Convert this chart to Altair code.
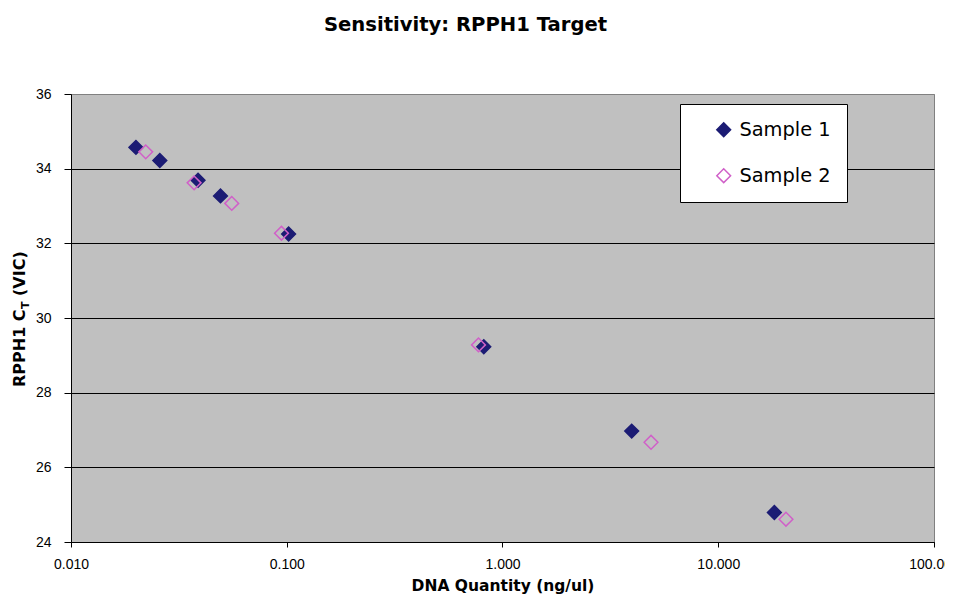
import altair as alt
import pandas as pd

# ---- data ----
series_names = ["Sample 1", "Sample 2"]
s1_qty = [0.020, 0.0258, 0.0388, 0.0493, 0.102, 0.819, 3.97, 18.2]
s1_ct = [34.57, 34.22, 33.69, 33.27, 32.25, 29.23, 26.97, 24.79]
s2_qty = [0.0222, 0.0372, 0.0556, 0.0945, 0.774, 4.88, 20.6]
s2_ct = [34.45, 33.62, 33.07, 32.27, 29.28, 26.67, 24.61]
x_ticks = [0.01, 0.1, 1, 10, 100]
y_ticks = [24, 26, 28, 30, 32, 34, 36]

df = pd.concat([
    pd.DataFrame({"qty": s1_qty, "ct": s1_ct, "series": series_names[0]}),
    pd.DataFrame({"qty": s2_qty, "ct": s2_ct, "series": series_names[1]}),
], ignore_index=True)

NAVY = "#1c1c74"
PINK = "#d060c8"
TICK_FONT = "Liberation Sans"
BOLD_FONT = "DejaVu Sans"

legend = alt.Legend(
    title=None, orient="none", legendX=609, legendY=10,
    fillColor="white", strokeColor="black", padding=16,
    symbolType="diamond", symbolSize=190, symbolStrokeWidth=1.5, symbolOffset=18,
    labelFont="DejaVu Sans", labelFontSize=19.4, labelColor="black", labelOffset=6,
    rowPadding=25, labelExpr="datum.label + '\u00a0\u00a0\u00a0'",
)

points = alt.Chart(df).mark_point(shape="diamond", size=190, strokeWidth=1.5, opacity=1).encode(
    x=alt.X("qty:Q",
            scale=alt.Scale(type="log", domain=[0.01, 100]),
            axis=alt.Axis(values=x_ticks, format=".3f", title="DNA Quantity (ng/ul)", grid=False,
                          labelFont=TICK_FONT, labelFontSize=14, labelColor="black",
                          tickSize=5, tickColor="black", domainColor="black",
                          labelPadding=10, labelFlush=False,
                          titleFont=BOLD_FONT, titleFontSize=15.5, titleFontWeight="bold",
                          titleColor="black", titlePadding=7)),
    y=alt.Y("ct:Q",
            scale=alt.Scale(domain=[24, 36], zero=False, nice=False),
            axis=alt.Axis(values=y_ticks, title=None,
                          labelFont=TICK_FONT, labelFontSize=14, labelColor="black",
                          tickSize=7, tickColor="black", domainColor="black",
                          labelPadding=13,
                          gridColor={"condition": {"test": "datum.value === 36", "value": "#808080"},
                                     "value": "black"},
                          gridOpacity=1, gridWidth=1)),
    fill=alt.Fill("series:N", scale=alt.Scale(domain=series_names, range=[NAVY, "transparent"]),
                  legend=legend),
    stroke=alt.Stroke("series:N", scale=alt.Scale(domain=series_names, range=[NAVY, PINK]),
                      legend=legend),
    order=alt.Order("series:N"),
)

def ytext(txt, x, y, size):
    return alt.Chart(pd.DataFrame({"t": [txt]})).mark_text(
        angle=270, align="left", baseline="middle", font=BOLD_FONT,
        fontWeight="bold", fontSize=size, color="black",
    ).encode(x=alt.value(x), y=alt.value(y), text="t:N")

y_title_main = ytext("RPPH1 C", -51, 293, 16)
y_title_sub = ytext("T", -45, 215, 11)
y_title_end = ytext("(VIC)", -51, 202, 16)

chart = alt.layer(points, y_title_main, y_title_sub, y_title_end).properties(
    width=863, height=448,
    autosize=alt.AutoSizeParams(type="none"),
    padding={"left": 63, "top": 86, "right": 11, "bottom": 52},
    background="white",
    title=alt.TitleParams("Sensitivity: RPPH1 Target", font=BOLD_FONT, fontSize=19.6,
                          fontWeight="bold", color="black", anchor="middle",
                          dx=-37, offset=51),
).configure_view(fill="#C0C0C0", stroke="#808080", strokeWidth=1)

chart.save("out.html", embed_options={"renderer": "svg", "actions": False})
